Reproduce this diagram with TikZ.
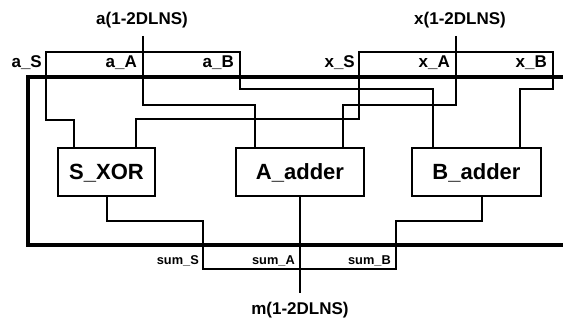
\documentclass[tikz,border=0pt]{standalone}
\usepackage{fontspec}
\setmainfont{Liberation Sans}
\begin{document}
\begin{tikzpicture}[x=1pt,y=-1pt,
  wire/.style={line width=2.3pt},
  bus/.style={line width=4.5pt},
  block/.style={draw,line width=2.3pt,minimum height=48pt,inner sep=0pt,
    text height=16pt,text depth=0pt,font=\fontsize{22}{26}\selectfont\bfseries},
  lab/.style={font=\fontsize{17}{20}\selectfont\bfseries,inner sep=0pt},
  slab/.style={font=\fontsize{12.8}{15}\selectfont\bfseries,inner sep=0pt}]
\useasboundingbox (0,0) rectangle (563,323);
% blocks
\node[block,minimum width=97pt] (sxor) at (106.5,172) {S\_XOR};
\node[block,minimum width=128pt] (aadd) at (300,172) {A\_adder};
\node[block,minimum width=129pt] (badd) at (476.5,172) {B\_adder};
% bus coordinates
\coordinate (aS) at (46,77);
\coordinate (aA) at (143,77);
\coordinate (aB) at (240,77);
\coordinate (xS) at (359,77);
\coordinate (xA) at (456,77);
\coordinate (xB) at (553,77);
\coordinate (atop) at (143,36);
\coordinate (xtop) at (456,36);
% main thick bus
\draw[bus] (563,77) -- (28,77) -- (28,245) -- (563,245);
% input labels
\node[lab,anchor=base] (ain) at (142,25) {a(1-2DLNS)};
\node[lab,anchor=base] (xin) at (460,25) {x(1-2DLNS)};
\draw[wire] (atop) -- (aA);
\draw[wire] (xtop) -- (xA);
% input bundles
\draw[wire] (aS) -- (46,52) -- (240,52) -- (aB);
\draw[wire] (xS) -- (359,52) -- (553,52) -- (xB);
\node[lab,anchor=base east] at (42,68) {a\_S};
\node[lab,anchor=base east] at (137,68) {a\_A};
\node[lab,anchor=base east] at (234,68) {a\_B};
\node[lab,anchor=base east] at (355,68) {x\_S};
\node[lab,anchor=base east] at (450,68) {x\_A};
\node[lab,anchor=base east] at (547,68) {x\_B};
% connections into blocks
\draw[wire] (aS) |- (74,120) -- (74,120 |- sxor.north);
\draw[wire] (xS) |- (136,119) -- (136,119 |- sxor.north);
\draw[wire] (aA) |- (255,105) -- (255,105 |- aadd.north);
\draw[wire] (xA) |- (343,105) -- (343,105 |- aadd.north);
\draw[wire] (aB) |- (433,89) -- (433,89 |- badd.north);
\draw[wire] (xB) |- (520,89) -- (520,89 |- badd.north);
% outputs
\coordinate (sumS) at (203,269);
\coordinate (sumB) at (396,269);
\coordinate (mbot) at (300,293);
\draw[wire] (107,0 |- sxor.south) |- (203,221) -- (sumS) -- (sumB) -- (396,221) -| (482,0 |- badd.south);
\draw[wire] (aadd.south) -- (mbot);
\node[slab,anchor=base east] at (199,265) {sum\_S};
\node[slab,anchor=base east] at (295,265) {sum\_A};
\node[slab,anchor=base east] at (391,265) {sum\_B};
\node[lab,anchor=base] (mout) at (300,315) {m(1-2DLNS)};
\end{tikzpicture}
\end{document}
